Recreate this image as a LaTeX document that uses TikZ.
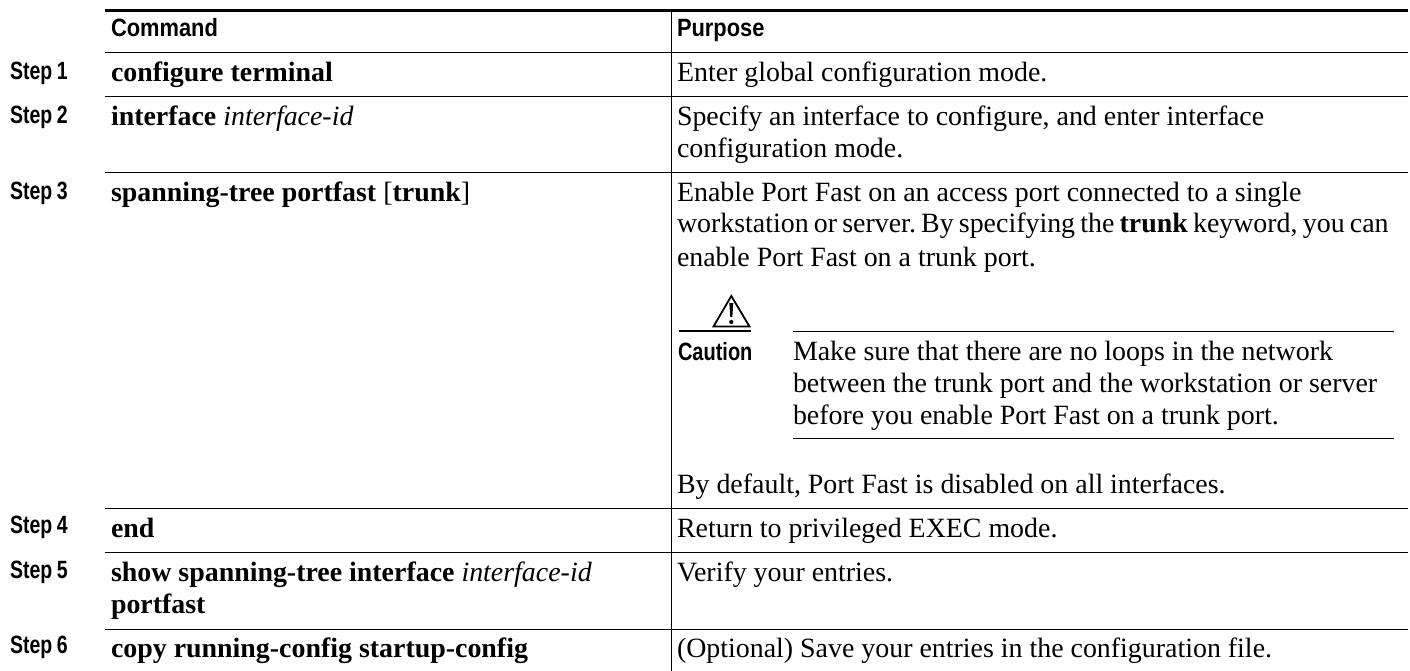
\documentclass[tikz,border=0pt]{standalone}
\usepackage{fontspec}
\setmainfont{Liberation Serif}
\newfontfamily\narrowsf[FakeStretch=0.875]{Liberation Sans}
\newfontfamily\stepsf[FakeStretch=0.78,WordSpace=0.85]{Liberation Sans}
\newfontfamily\causf[FakeStretch=0.8]{Liberation Sans}
\frenchspacing
\tikzset{
 x=1pt,y=-1pt,
 body/.style={anchor=base west,inner sep=0pt,outer sep=0pt,font=\fontsize{27.9}{28}\selectfont},
 head/.style={anchor=base west,inner sep=0pt,outer sep=0pt,font=\fontsize{25}{25}\narrowsf\bfseries},
 stepl/.style={anchor=base west,inner sep=0pt,outer sep=0pt,font=\fontsize{25}{25}\stepsf\bfseries},
 caul/.style={anchor=base west,inner sep=0pt,outer sep=0pt,font=\fontsize{25}{25}\causf\bfseries},
 rulethin/.style={line width=1pt,black},
 rulethick/.style={line width=3pt,black},
}
\begin{document}
\begin{tikzpicture}
\useasboundingbox (0,0) rectangle (1410,671);
\coordinate (tl) at (105,10.7); \coordinate (tr) at (1408,10.7);
\draw[rulethick] (tl) -- (tr);
\foreach \yy in {53,97,173,508,552,629}{\draw[rulethin] (105,\yy) -- (1408,\yy);}
\draw[rulethin] (671,11) -- (671,671);
\node[head] (hc) at (111,37) {Command};
\node[head] (hp) at (677,37) {Purpose};
\node[stepl] (s1) at (10,80) {Step 1};
\node[stepl] (s2) at (10,124) {Step 2};
\node[stepl] (s3) at (10,200) {Step 3};
\node[stepl] (s4) at (10,533) {Step 4};
\node[stepl] (s5) at (10,578) {Step 5};
\node[stepl] (s6) at (10,653) {Step 6};
\node[body] (c1) at (111,82) {\textbf{configure terminal}};
\node[body] (c2) at (111,126) {\textbf{interface} \textit{interface-id}};
\node[body] (c3) at (111,201) {\textbf{spanning-tree portfast} [\textbf{trunk}]};
\node[body] (c4) at (111,537) {\textbf{end}};
\node[body] (c5) at (111,581) {\textbf{show spanning-tree interface} \textit{interface-id}};
\node[body] (c5b) at (111,613) {\textbf{portfast}};
\node[body] (c6) at (111,657) {\textbf{copy running-config startup-config}};
\node[body] (p1) at (677,82) {Enter global configuration mode.};
\node[body] (p2) at (677,126) {Specify an interface to configure, and enter interface};
\node[body] (p2b) at (677,158) {configuration mode.};
\node[body] (p3) at (677,201) {Enable Port Fast on an access port connected to a single};
\node[body] (p3b) at (677,233) {\spaceskip=5.2pt workstation or server. By specifying the \textbf{trunk} keyword, you can};
\node[body] (p3c) at (677,266) {enable Port Fast on a trunk port.};
\draw[line width=2pt] (679,331) -- (751,331);
\draw[line width=1.8pt,line join=miter] (731.3,296) -- (713.5,326.5) -- (749.5,326.5) -- cycle;
\fill (729.3,303) -- (733.3,303) -- (732.3,317) -- (730.3,317) -- cycle;
\fill (731.3,322) circle (2.1);
\draw[rulethin] (793,331.5) -- (1394,331.5);
\draw[rulethin] (793,438) -- (1394,438);
\node[caul] (cau) at (678,360) {Caution};
\node[body] (n1) at (793,360) {Make sure that there are no loops in the network};
\node[body] (n2) at (793,392) {between the trunk port and the workstation or server};
\node[body] (n3) at (793,424) {before you enable Port Fast on a trunk port.};
\node[body] (p3d) at (677,493) {By default, Port Fast is disabled on all interfaces.};
\node[body] (p4) at (677,537) {Return to privileged EXEC mode.};
\node[body] (p5) at (677,581) {Verify your entries.};
\node[body] (p6) at (677,657) {(Optional) Save your entries in the configuration file.};
\end{tikzpicture}
\end{document}
